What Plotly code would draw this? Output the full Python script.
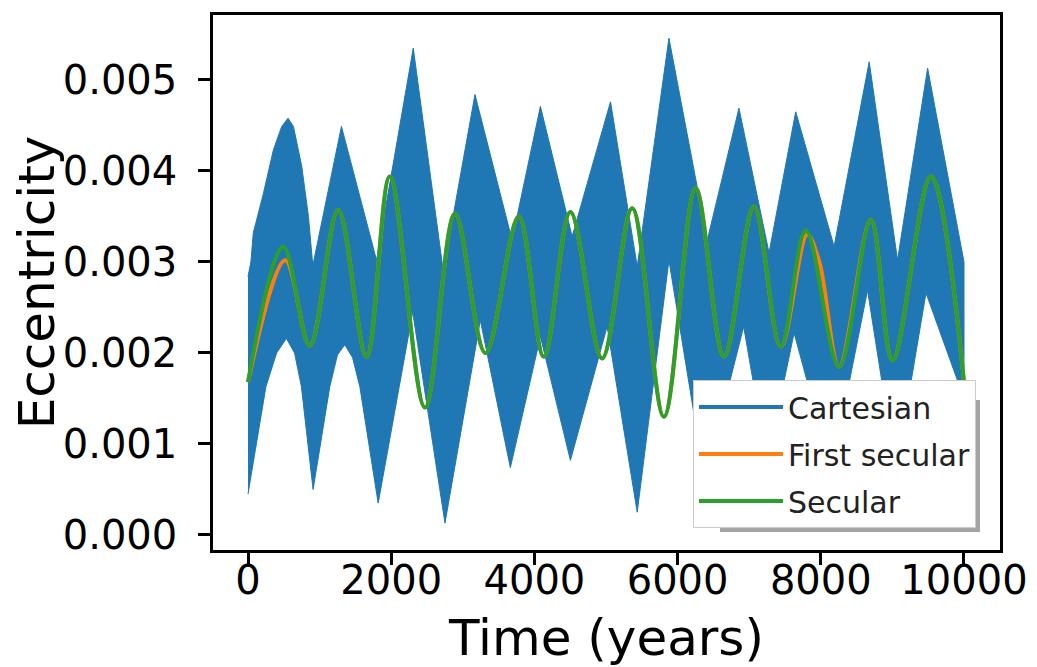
import plotly.graph_objects as go

# ---- data ----
# Cartesian: fast oscillation drawn as the band between its envelopes
upper_t = [0, 40, 74, 214, 354, 471, 559, 634, 751, 844, 905, 1305, 1795, 2308,
           2727, 3170, 3688, 4084, 4527, 5063, 5436, 5879, 6415, 6857, 7277, 7650,
           8186, 8676, 9072, 9492, 10000]
upper_e = [0.00284, 0.00300, 0.00332, 0.00375, 0.00423, 0.00449, 0.00458, 0.00449,
           0.00405, 0.00350, 0.00296, 0.00449, 0.00302, 0.00535, 0.00290, 0.00484,
           0.00324, 0.00471, 0.00328, 0.00476, 0.00295, 0.00546, 0.00324, 0.00469,
           0.00310, 0.00465, 0.00317, 0.00520, 0.00302, 0.00513, 0.00300]
lower_t = [0, 250, 400, 536, 650, 746, 909, 1142, 1250, 1352, 1460, 1562, 1818,
           2300, 2751, 3245, 3664, 4084, 4503, 5016, 5436, 5879, 6380, 6923, 7250,
           7627, 8150, 8653, 9050, 9469, 10000]
lower_e = [0.00045, 0.00163, 0.00200, 0.00216, 0.00200, 0.00163, 0.00050, 0.00163,
           0.00198, 0.00209, 0.00195, 0.00163, 0.00035, 0.00245, 0.00013, 0.00236,
           0.00074, 0.00218, 0.00082, 0.00229, 0.00025, 0.00302, 0.00060, 0.00229,
           0.00080, 0.00222, 0.00070, 0.00269, 0.00070, 0.00266, 0.00150]

secular_t = [0, 490, 862, 1259, 1655, 1981, 2471, 2890, 3315, 3781, 4131, 4503,
             4946, 5366, 5809, 6252, 6648, 7067, 7441, 7790, 8256, 8699, 9002,
             9538, 10000]
secular_e = [0.00168, 0.00317, 0.00208, 0.00357, 0.00196, 0.00394, 0.00140, 0.00353,
             0.00200, 0.00350, 0.00196, 0.00355, 0.00194, 0.00359, 0.00130, 0.00381,
             0.00196, 0.00361, 0.00207, 0.00335, 0.00185, 0.00346, 0.00192, 0.00394,
             0.00168]

first_t = [0, 520, 862, 1259, 1655, 1981, 2471, 2890, 3315, 3781, 4131, 4503,
           4946, 5366, 5809, 6252, 6648, 7067, 7441, 7810, 7980, 8256, 8699, 9002,
           9538, 10000]
first_e = [0.00168, 0.00302, 0.00208, 0.00357, 0.00196, 0.00394, 0.00140, 0.00353,
           0.00200, 0.00350, 0.00196, 0.00355, 0.00194, 0.00359, 0.00130, 0.00381,
           0.00196, 0.00361, 0.00207, 0.00330, 0.00300, 0.00185, 0.00346, 0.00192,
           0.00394, 0.00168]

x_ticks = [0, 2000, 4000, 6000, 8000, 10000]
y_ticks = [0.000, 0.001, 0.002, 0.003, 0.004, 0.005]

BLUE, ORANGE, GREEN = "#1f77b4", "#ff7f0e", "#2ca02c"
FONT = "DejaVu Sans"

fig = go.Figure()

# Cartesian band (polygon: upper envelope then lower envelope reversed)
fig.add_trace(go.Scatter(
    x=upper_t + lower_t[::-1], y=upper_e + lower_e[::-1],
    mode="lines", fill="toself", fillcolor=BLUE,
    line=dict(color=BLUE, width=1), showlegend=False, hoverinfo="skip"))
fig.add_trace(go.Scatter(x=[None], y=[None], mode="lines", name="Cartesian",
                         legendgroup="a", line=dict(color=BLUE, width=4)))
fig.add_trace(go.Scatter(x=first_t, y=first_e, mode="lines", name="First secular",
                         legendgroup="b",
                         line=dict(color=ORANGE, width=4, shape="spline", smoothing=1.0)))
fig.add_trace(go.Scatter(x=secular_t, y=secular_e, mode="lines", name="Secular",
                         legendgroup="c",
                         line=dict(color=GREEN, width=4, shape="spline", smoothing=1.0)))

# page body has an 8px margin: compensate so the plot area lands at x 213..1000, y 15..550
OFF = 8
W, H = 1037 - OFF, 667 - OFF
L, R, T, B = 213 - OFF, 37, 15 - OFF, 117
pw, ph = W - L - R, H - T - B

def px2paper(x, y):
    # x, y are screenshot pixels
    return (x - OFF - L) / pw, (H - B - (y - OFF)) / ph

# legend shadow (offset down/right; hidden under legend except edges)
sx0, sy0 = px2paper(720, 532)
sx1, sy1 = px2paper(980, 400)
fig.add_shape(type="rect", xref="paper", yref="paper", x0=sx0, y0=sy0, x1=sx1, y1=sy1,
              fillcolor="rgba(90,90,90,0.55)", line=dict(width=0), layer="above")

lx, ly = px2paper(693, 380)
fig.update_layout(
    width=W, height=H,
    margin=dict(l=L, r=R, t=T, b=B, autoexpand=False),
    paper_bgcolor="white", plot_bgcolor="white",
    font=dict(family=FONT, color="black"),
    legend=dict(x=lx, y=ly, xanchor="left", yanchor="top",
                bgcolor="white", bordercolor="#cccccc", borderwidth=1,
                font=dict(family=FONT, size=30, color="#222222"),
                itemwidth=84, tracegroupgap=5),
    xaxis=dict(range=[-489, 10503], tickvals=x_ticks,
               ticktext=[str(v) for v in x_ticks],
               showgrid=False, zeroline=False,
               showline=True, linecolor="black", linewidth=2.5, mirror=True,
               ticks="outside", ticklen=12, tickwidth=2.5, tickcolor="black",
               tickfont=dict(family=FONT, size=40, color="black"),
               ticklabelstandoff=-19,
               title=dict(text="Time (years)", font=dict(family=FONT, size=50, color="black"),
                          standoff=27)),
    yaxis=dict(range=[-0.000165, 0.005714], tickvals=y_ticks,
               ticktext=["%.3f" % v for v in y_ticks],
               showgrid=False, zeroline=False,
               showline=True, linecolor="black", linewidth=2.5, mirror=True,
               ticks="outside", ticklen=12, tickwidth=2.5, tickcolor="black",
               tickfont=dict(family=FONT, size=40, color="black"),
               ticklabelstandoff=13,
               title=dict(text="Eccentricity", font=dict(family=FONT, size=50, color="black"),
                          standoff=13)),
)

fig.write_html("out.html")
